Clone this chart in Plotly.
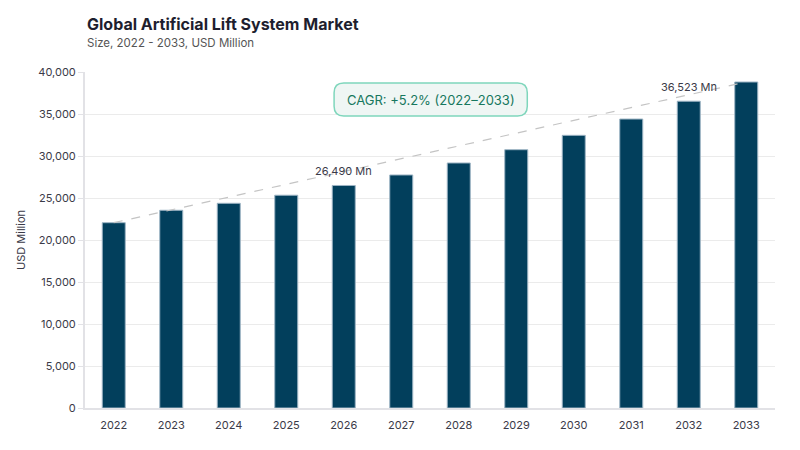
import plotly.graph_objects as go

years = ["2022", "2023", "2024", "2025", "2026", "2027", "2028", "2029", "2030", "2031", "2032", "2033"]
market_size = [22060, 23540, 24370, 25330, 26490, 27740, 29170, 30750, 32460, 34400, 36523, 38810]
labelled_years = ["2026", "2032"]
cagr_text = "CAGR: +5.2% (2022\u20132033)"

BAR_COLOR = "#023F5C"
TEXT = "#3A3A48"
FONT = "Inter, Open Sans, sans-serif"

fig = go.Figure()

fig.add_trace(go.Bar(
    x=years,
    y=market_size,
    marker=dict(color=BAR_COLOR, line=dict(color="#9DB4C4", width=1)),
    showlegend=False,
))

# dashed trend line from first to last bar top
fig.add_trace(go.Scatter(
    x=[years[0], years[-1]],
    y=[market_size[0], market_size[-1]],
    mode="lines",
    line=dict(color="#C4C4C4", width=1.2, dash="dash"),
    showlegend=False,
    hoverinfo="skip",
))

for yr in labelled_years:
    i = years.index(yr)
    fig.add_annotation(
        x=i, y=market_size[i], text=f"{market_size[i]:,} Mn", showarrow=False,
        yanchor="bottom", yshift=5,
        font=dict(family=FONT, size=11, color=TEXT),
    )

# rounded CAGR box
x0, x1, y0, y1 = 0.361, 0.641, 0.869, 0.967
rx, ry = 0.014, 0.029
path = (f"M {x0+rx},{y0} L {x1-rx},{y0} Q {x1},{y0} {x1},{y0+ry} "
        f"L {x1},{y1-ry} Q {x1},{y1} {x1-rx},{y1} L {x0+rx},{y1} "
        f"Q {x0},{y1} {x0},{y1-ry} L {x0},{y0+ry} Q {x0},{y0} {x0+rx},{y0} Z")
fig.add_shape(type="path", path=path, xref="paper", yref="paper",
              fillcolor="#EFF6F4", line=dict(color="#7FD6BC", width=1.5), layer="above")
fig.add_annotation(
    x=(x0 + x1) / 2, y=(y0 + y1) / 2, xref="paper", yref="paper",
    xanchor="center", yanchor="middle",
    text=cagr_text, showarrow=False,
    font=dict(family=FONT, size=13, color="#17785E"),
)

# title and subtitle
fig.add_annotation(
    x=0, y=1, xref="paper", yref="paper", xanchor="left", yanchor="bottom",
    yshift=36, showarrow=False,
    text="<b>Global Artificial Lift System Market</b>",
    font=dict(family=FONT, size=16, color="#1E1E2E"),
)
fig.add_annotation(
    x=0, y=1, xref="paper", yref="paper", xanchor="left", yanchor="bottom",
    yshift=20, showarrow=False,
    text="Size, 2022 - 2033, USD Million",
    font=dict(family=FONT, size=11.5, color="#555555"),
)

fig.update_layout(
    width=792,
    height=442,
    margin=dict(l=77, r=25, t=64, b=42),
    paper_bgcolor="white",
    plot_bgcolor="white",
    bargap=0.6,
    font=dict(family=FONT, size=11, color=TEXT),
)

fig.update_yaxes(
    range=[0, 40000],
    dtick=5000,
    tickformat=",d",
    gridcolor="#EBEBEB",
    showline=True, linecolor="#E2E2E6", linewidth=2,
    ticks="outside", ticklen=5, tickcolor="#E2E2E6",
    zeroline=False,
    automargin=False,
    title=dict(text="USD Million", font=dict(family=FONT, size=11, color=TEXT), standoff=10),
    tickfont=dict(family=FONT, size=11, color=TEXT),
)
fig.update_xaxes(
    type="category",
    range=[-0.5, len(years) - 0.5],
    automargin=False,
    showline=True, linecolor="#E2E2E6", linewidth=2,
    ticks="outside", ticklen=6, tickcolor="rgba(0,0,0,0)",
    tickfont=dict(family=FONT, size=11, color=TEXT),
    showgrid=False,
)

fig.write_html("out.html")
